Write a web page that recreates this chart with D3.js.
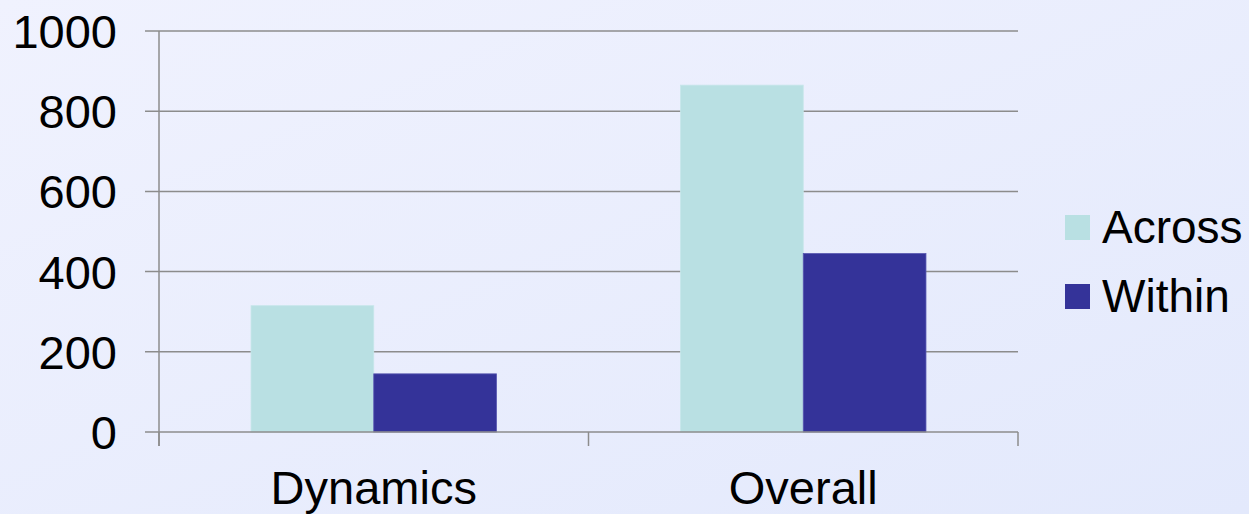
<!DOCTYPE html>
<html>
<head>
<meta charset="utf-8">
<script src="https://cdn.jsdelivr.net/npm/d3@7"></script>
<style>
  html, body { margin: 0; padding: 0; }
  body { width: 1249px; height: 514px; overflow: hidden; }
</style>
</head>
<body>
<svg id="chart" width="1249" height="514"></svg>
<script>
const categories = ["Dynamics", "Overall"];
const seriesNames = ["Across", "Within"];
const across = [315, 865];
const within = [145, 445];
const yTicks = [0, 200, 400, 600, 800, 1000];

const colors = { Across: "#b9e0e3", Within: "#343399" };
const strokes = { Across: "#c6e6ea", Within: "#5656b0" };

var svg = d3.select("#chart"),
    width = +svg.attr("width"),
    height = +svg.attr("height"),
    margin = { top: 31, left: 159, right: 231, bottom: 82 };

// background gradient
var defs = svg.append("defs");
var grad = defs.append("linearGradient")
    .attr("id", "bg")
    .attr("x1", "0%").attr("y1", "0%")
    .attr("x2", "100%").attr("y2", "100%");
grad.append("stop").attr("offset", "0%").attr("stop-color", "#f0f2fe");
grad.append("stop").attr("offset", "100%").attr("stop-color", "#e3e9fc");

svg.append("rect")
    .attr("width", width)
    .attr("height", height)
    .attr("fill", "url(#bg)");

var data = categories.map((c, i) => ({ cat: c, Across: across[i], Within: within[i] }));

var x0 = d3.scaleBand()
    .domain(categories)
    .range([margin.left, width - margin.right])
    .padding(0);

var x1 = d3.scaleBand()
    .domain(seriesNames)
    .range([0, x0.bandwidth()])
    .paddingInner(0)
    .paddingOuter(0.75);

var y = d3.scaleLinear()
    .domain([0, 1000])
    .range([height - margin.bottom, margin.top]);

const font = "'Liberation Sans', Arial, sans-serif";
const gridColor = "#8c8c8c";

// gridlines
svg.append("g")
    .selectAll("line")
    .data(yTicks.filter(d => d > 0))
    .enter().append("line")
    .attr("x1", margin.left - 14)
    .attr("x2", width - margin.right)
    .attr("y1", d => y(d))
    .attr("y2", d => y(d))
    .attr("stroke", gridColor)
    .attr("stroke-width", 1.5);

// bars
var groups = svg.append("g")
    .selectAll("g")
    .data(data)
    .enter().append("g")
    .attr("transform", d => `translate(${x0(d.cat)},0)`);

groups.selectAll("rect")
    .data(d => seriesNames.map(k => ({ key: k, value: d[k] })))
    .enter().append("rect")
    .attr("x", d => x1(d.key))
    .attr("y", d => y(d.value))
    .attr("width", x1.bandwidth())
    .attr("height", d => y(0) - y(d.value))
    .attr("fill", d => colors[d.key])
    .attr("stroke", d => strokes[d.key])
    .attr("stroke-width", 0.8);

// x axis
var xAxis = svg.append("g")
    .attr("transform", `translate(0,${y(0)})`);
xAxis.append("line")
    .attr("x1", margin.left - 14)
    .attr("x2", width - margin.right)
    .attr("stroke", gridColor)
    .attr("stroke-width", 1.5);
var xTickPos = categories.map(c => x0(c)).concat([width - margin.right]);
xAxis.selectAll(".xtick")
    .data(xTickPos)
    .enter().append("line")
    .attr("class", "xtick")
    .attr("x1", d => d).attr("x2", d => d)
    .attr("y1", 0).attr("y2", 14)
    .attr("stroke", gridColor)
    .attr("stroke-width", 1.5);
xAxis.selectAll("text")
    .data(categories)
    .enter().append("text")
    .attr("x", d => x0(d) + x0.bandwidth() / 2)
    .attr("y", 72)
    .attr("text-anchor", "middle")
    .attr("font-family", font)
    .attr("font-size", 47)
    .attr("fill", "#000")
    .text(d => d);

// y axis
var yAxis = svg.append("g");
yAxis.append("line")
    .attr("x1", margin.left).attr("x2", margin.left)
    .attr("y1", y(1000)).attr("y2", y(0) + 14)
    .attr("stroke", gridColor)
    .attr("stroke-width", 1.5);
yAxis.selectAll("text")
    .data(yTicks)
    .enter().append("text")
    .attr("x", 117)
    .attr("y", d => y(d))
    .attr("dy", "0.36em")
    .attr("text-anchor", "end")
    .attr("font-family", font)
    .attr("font-size", 47)
    .attr("fill", "#000")
    .text(d => d);

// legend
var legend = svg.append("g")
    .selectAll("g")
    .data(seriesNames)
    .enter().append("g")
    .attr("transform", (d, i) => `translate(1065,${215 + i * 69})`);
legend.append("rect")
    .attr("width", 25)
    .attr("height", 25)
    .attr("fill", d => colors[d]);
legend.append("text")
    .attr("x", 37)
    .attr("y", 28)
    .attr("font-family", font)
    .attr("font-size", 46)
    .attr("fill", "#000")
    .text(d => d);
</script>
</body>
</html>
